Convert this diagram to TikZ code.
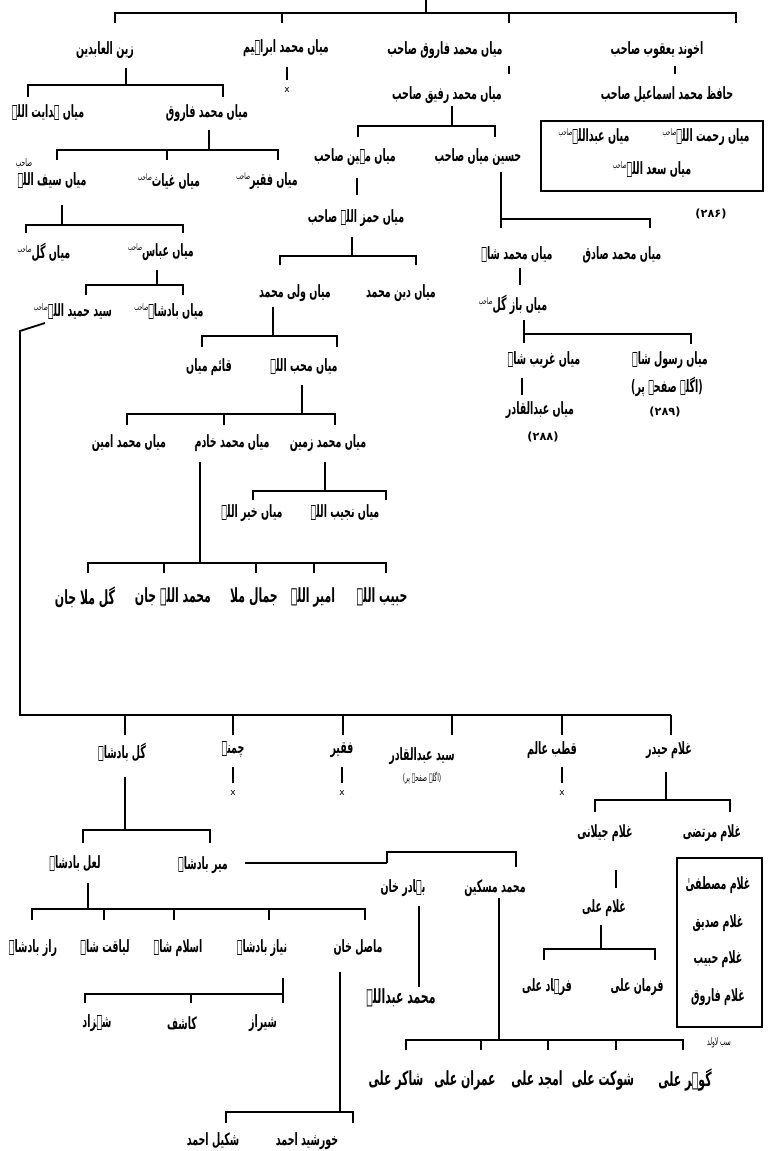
\documentclass[tikz,border=0pt]{standalone}
\usepackage{fontspec}
\usepackage{graphicx}
\TeXXeTstate=1
\newfontfamily\ur[Script=Arabic]{DejaVu Sans}
\newcommand\U[1]{\scalebox{0.84}[1.5]{\beginR #1\endR}}
\newcommand\sah{\raisebox{4pt}{\fontsize{6}{8}\mdseries\selectfont صاحب}}
\newcommand\brk[6]{\draw[ln] (#5,#4) -- (#5,#3) -- (#6,#3) -- (#6,#4); \draw[ln] (#1,#2) -- (#1,#3);}
\newcommand\drp[3]{\draw[ln] (#1,#2) -- (#1,#3);}
\tikzset{
  ln/.style={line width=1.8pt, line join=miter},
  nm/.style={inner sep=0pt, font=\ur\bfseries\fontsize{11.3}{13}\selectfont},
  bg/.style={inner sep=0pt, font=\ur\bfseries\fontsize{13}{15}\selectfont},
  sm/.style={inner sep=0pt, font=\ur\fontsize{7}{10}\selectfont},
  xm/.style={inner sep=0pt, font=\fontspec{DejaVu Sans}\fontsize{9}{10}\selectfont},
  bx/.style={line width=1.2pt}
}
\begin{document}
\begin{tikzpicture}[x=1pt,y=-1pt]
\useasboundingbox (0,0) rectangle (768,1151);
% ---------- top level
\draw[ln] (426,0) -- (426,13);
\draw[ln] (115,23) -- (115,13) -- (736,13) -- (736,23);
\drp{282}{13}{23}\drp{509}{13}{23}
\node[nm] (zain) at (105,50) {\U{زین العابدین}};
\node[nm] (ibr) at (286,48) {\U{میاں محمد ابراہیم}};
\node[nm] (faruq) at (445,50) {\U{میاں محمد فاروق صاحب}};
\node[nm] (akh) at (657,50) {\U{اخوند یعقوب صاحب}};
\drp{287}{67}{80}
\node[xm] (x1) at (287,90) {x};
\drp{675}{66}{74}
\node[nm] (hafiz) at (667,95) {\U{حافظ محمد اسماعیل صاحب}};
\draw[bx] (541,121) rectangle (763,191);
\node[nm] (abd) at (594,137) {\U{میاں عبداللہ\sah}};
\node[nm] (rah) at (706,137) {\U{میاں رحمت اللہ\sah}};
\node[nm] (saad) at (652,170) {\U{میاں سعد اللہ\sah}};
\node[nm] (p286) at (711,214) {(۲۸۶)};
\drp{509}{66}{74}
\node[nm] (rafiq) at (447,95) {\U{میاں محمد رفیق صاحب}};
\brk{452}{106}{126}{137}{358}{495}
\node[nm] (mahin) at (355,157) {\U{میاں مہین صاحب}};
\node[nm] (husain) at (478,157) {\U{حسین میاں صاحب}};
% ---------- left branch
\brk{126}{68}{85}{97}{28}{223}
\node[nm] (hidayat) at (48,113) {\U{میاں ہدایت اللہ}};
\node[nm] (mfaruq) at (207,113) {\U{میاں محمد فاروق}};
\brk{209}{130}{150}{160}{57}{278}
\drp{167}{150}{160}
\node[nm] (saif) at (52,181) {\U{میاں سیف اللہ}};
\node[sm] (saifs) at (24,163) {\U{صاحب}};
\node[nm] (ghiyas) at (169,181) {\U{میاں غیاث\sah}};
\node[nm] (faqir1) at (267,181) {\U{میاں فقیر\sah}};
\brk{62}{205}{225}{233}{26}{183}
\node[nm] (gul1) at (44,252) {\U{میاں گل\sah}};
\node[nm] (abbas) at (161,252) {\U{میاں عباس\sah}};
\brk{157}{270}{285}{295}{86}{183}
\node[nm] (hamid) at (73,312) {\U{سید حمید اللہ\sah}};
\node[nm] (badsh) at (169,312) {\U{میاں بادشاہ\sah}};
\draw[ln] (45,323) -- (20,331) -- (20,715) -- (671,715);
\foreach \q in {125,233,343,452,562,671} {\drp{\q}{715}{735}}
% ---------- middle branch
\drp{357}{178}{195}
\node[nm] (hamza) at (356,218) {\U{میاں حمز اللہ صاحب}};
\brk{352}{237}{256}{265}{280}{416}
\node[nm] (wali) at (295,293) {\U{میاں ولی محمد}};
\node[nm] (din) at (401,293) {\U{میاں دین محمد}};
\brk{273}{307}{336}{347}{202}{337}
\node[nm] (qaim) at (209,367) {\U{قائم میاں}};
\node[nm] (muhib) at (304,367) {\U{میاں محب اللہ}};
\brk{302}{385}{414}{425}{127}{335}
\drp{224}{414}{425}
\node[nm] (amin) at (129,443) {\U{میاں محمد امین}};
\node[nm] (khadim) at (232,443) {\U{میاں محمد خادم}};
\node[nm] (zamin) at (328,443) {\U{میاں محمد زمین}};
\brk{325}{462}{491}{500}{253}{386}
\node[nm] (khair) at (252,513) {\U{میاں خیر اللہ}};
\node[nm] (najib) at (345,513) {\U{میاں نجیب اللہ}};
\brk{200}{462}{563}{573}{88}{386}
\foreach \q in {164,256,314} {\drp{\q}{563}{573}}
\node[bg] (gmj) at (85,597) {\U{گل ملا جان}};
\node[bg] (mj) at (173,597) {\U{محمد اللہ جان}};
\node[bg] (jm) at (254,597) {\U{جمال ملا}};
\node[bg] (amir) at (313,597) {\U{امیر اللہ}};
\node[bg] (habib) at (382,597) {\U{حبیب اللہ}};
% ---------- right middle
\draw[ln] (501,172) -- (501,228);
\draw[ln] (501,219) -- (650,219) -- (650,228);
\node[nm] (mshah) at (517,255) {\U{میاں محمد شاہ}};
\node[nm] (sadiq) at (622,255) {\U{میاں محمد صادق}};
\drp{520}{268}{285}
\node[nm] (bazgul) at (513,305) {\U{میاں باز گل\sah}};
\draw[ln] (524,320) -- (524,343);
\draw[ln] (524,334) -- (691,334) -- (691,344);
\node[nm] (gharib) at (544,360) {\U{میاں غریب شاہ}};
\node[nm] (rasul) at (670,360) {\U{میاں رسول شاہ}};
\node[nm] (agle1) at (667,387) {\U{(اگلے صفحے پر)}};
\node[nm] (p289) at (665,412) {(۲۸۹)};
\drp{522}{378}{395}
\node[nm] (abdq) at (540,410) {\U{میاں عبدالقادر}};
\node[nm] (p288) at (543,437) {(۲۸۸)};
% ---------- lower section
\node[nm] (gulb) at (122,752) {\U{گل بادشاہ}};
\node[nm] (chamne) at (233,750) {\U{چمنے}};
\node[nm] (faqir2) at (342,750) {\U{فقیر}};
\node[nm] (syed) at (422,756) {\U{سید عبدالقادر}};
\node[sm] (agle2) at (422,778) {\U{(اگلے صفحے پر)}};
\node[nm] (qutb) at (552,750) {\U{قطب عالم}};
\node[nm] (ghhaidar) at (669,750) {\U{غلام حیدر}};
\foreach \q in {233,342,562} {\drp{\q}{767}{783}}
\node[xm] (x2) at (233,793) {x};
\node[xm] (x3) at (342,793) {x};
\node[xm] (x4) at (562,793) {x};
\brk{666}{772}{800}{812}{595}{730}
\node[nm] (jilani) at (605,833) {\U{غلام جیلانی}};
\node[nm] (murt) at (712,833) {\U{غلام مرتضی}};
\draw[bx] (677,858) rectangle (762,1027);
\node[nm] (g1) at (718,885) {\U{غلام مصطفیٰ}};
\node[nm] (g2) at (718,923) {\U{غلام صدیق}};
\node[nm] (g3) at (718,959) {\U{غلام حبیب}};
\node[nm] (g4) at (718,997) {\U{غلام فاروق}};
\node[sm] (lawalad) at (719,1043) {\U{سب لاولد}};
\drp{616}{870}{888}
\node[nm] (ghali) at (604,908) {\U{غلام علی}};
\brk{601}{925}{949}{960}{544}{655}
\node[nm] (farhad) at (547,987) {\U{فرہاد علی}};
\node[nm] (farman) at (637,987) {\U{فرمان علی}};
% gul badshah branch
\brk{125}{777}{830}{843}{83}{210}
\node[nm] (lal) at (75,864) {\U{لعل بادشاہ}};
\node[nm] (mir) at (203,865) {\U{میر بادشاہ}};
\draw[ln] (245,863) -- (387,863);
\draw[ln] (387,863) -- (387,852) -- (516,852) -- (516,867);
\node[nm] (bahadur) at (403,888) {\U{بہادر خان}};
\node[nm] (miskin) at (495,888) {\U{محمد مسکین}};
\drp{419}{906}{987}
\node[bg] (mabd) at (401,998) {\U{محمد عبداللہ}};
\draw[ln] (499,898) -- (499,1040);
\draw[ln] (406,1050) -- (406,1040) -- (683,1040) -- (683,1050);
\foreach \q in {481,548,616} {\drp{\q}{1040}{1050}}
\node[bg] (shakir) at (396,1080) {\U{شاکر علی}};
\node[bg] (imran) at (465,1080) {\U{عمران علی}};
\node[bg] (amjad) at (537,1080) {\U{امجد علی}};
\node[bg] (shaukat) at (603,1080) {\U{شوکت علی}};
\node[bg] (gauhar) at (685,1080) {\U{گوہر علی}};
% lal badshah
\brk{88}{883}{909}{920}{32}{365}
\foreach \q in {104,174,269} {\drp{\q}{909}{920}}
\node[nm] (raz) at (33,948) {\U{راز بادشاہ}};
\node[nm] (liaqat) at (105,948) {\U{لیاقت شاہ}};
\node[nm] (islam) at (178,948) {\U{اسلام شاہ}};
\node[nm] (niaz) at (262,948) {\U{نیاز بادشاہ}};
\node[nm] (masal) at (358,948) {\U{ماصل خان}};
\draw[ln] (283,978) -- (283,1003);
\draw[ln] (85,1003) -- (85,994) -- (283,994);
\drp{191}{994}{1003}
\node[nm] (shahzad) at (97,1023) {\U{شہزاد}};
\node[nm] (kashif) at (182,1023) {\U{کاشف}};
\node[nm] (shiraz) at (263,1023) {\U{شیراز}};
\brk{340}{972}{1112}{1123}{226}{353}
\node[nm] (shakil) at (213,1141) {\U{شکیل احمد}};
\node[nm] (khursh) at (307,1141) {\U{خورشید احمد}};
\end{tikzpicture}
\end{document}
